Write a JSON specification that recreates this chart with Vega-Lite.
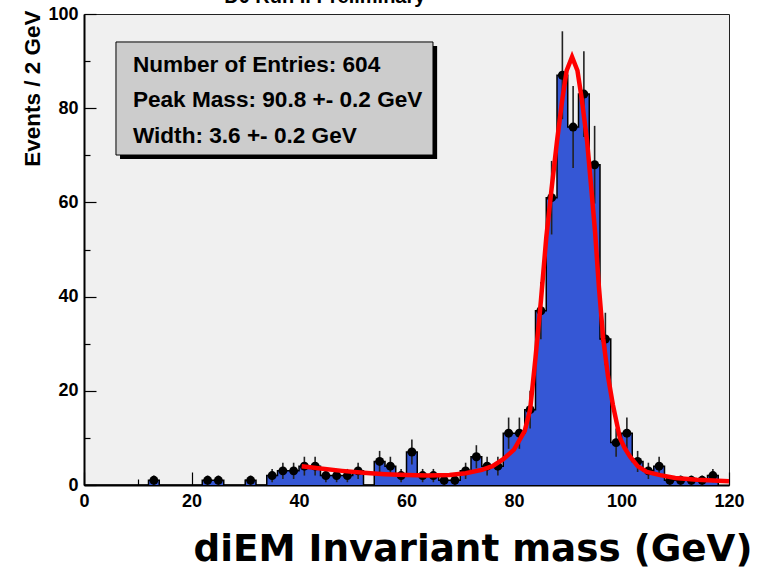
{
  "$schema": "https://vega.github.io/schema/vega-lite/v6.json",
  "width": 645,
  "height": 471,
  "autosize": {"type": "none"},
  "padding": {"left": 84, "top": 14, "right": 39, "bottom": 88},
  "background": "#ffffff",
  "config": {
    "view": {"fill": "#f0f0f0", "stroke": "#222222", "strokeWidth": 1},
    "font": "Liberation Sans"
  },
  "datasets": {
    "hist": [
      {"lo": 0, "hi": 2, "m": 1, "n": 0, "e": 0},
      {"lo": 2, "hi": 4, "m": 3, "n": 0, "e": 0},
      {"lo": 4, "hi": 6, "m": 5, "n": 0, "e": 0},
      {"lo": 6, "hi": 8, "m": 7, "n": 0, "e": 0},
      {"lo": 8, "hi": 10, "m": 9, "n": 0, "e": 0},
      {"lo": 10, "hi": 12, "m": 11, "n": 0, "e": 0},
      {"lo": 12, "hi": 14, "m": 13, "n": 1, "e": 1},
      {"lo": 14, "hi": 16, "m": 15, "n": 0, "e": 0},
      {"lo": 16, "hi": 18, "m": 17, "n": 0, "e": 0},
      {"lo": 18, "hi": 20, "m": 19, "n": 0, "e": 0},
      {"lo": 20, "hi": 22, "m": 21, "n": 0, "e": 0},
      {"lo": 22, "hi": 24, "m": 23, "n": 1, "e": 1},
      {"lo": 24, "hi": 26, "m": 25, "n": 1, "e": 1},
      {"lo": 26, "hi": 28, "m": 27, "n": 0, "e": 0},
      {"lo": 28, "hi": 30, "m": 29, "n": 0, "e": 0},
      {"lo": 30, "hi": 32, "m": 31, "n": 1, "e": 1},
      {"lo": 32, "hi": 34, "m": 33, "n": 0, "e": 0},
      {"lo": 34, "hi": 36, "m": 35, "n": 2, "e": 1.41},
      {"lo": 36, "hi": 38, "m": 37, "n": 3, "e": 1.73},
      {"lo": 38, "hi": 40, "m": 39, "n": 3, "e": 1.73},
      {"lo": 40, "hi": 42, "m": 41, "n": 4, "e": 2},
      {"lo": 42, "hi": 44, "m": 43, "n": 4, "e": 2},
      {"lo": 44, "hi": 46, "m": 45, "n": 2, "e": 1.41},
      {"lo": 46, "hi": 48, "m": 47, "n": 2, "e": 1.41},
      {"lo": 48, "hi": 50, "m": 49, "n": 2, "e": 1.41},
      {"lo": 50, "hi": 52, "m": 51, "n": 3, "e": 1.73},
      {"lo": 52, "hi": 54, "m": 53, "n": 0, "e": 0},
      {"lo": 54, "hi": 56, "m": 55, "n": 5, "e": 2.24},
      {"lo": 56, "hi": 58, "m": 57, "n": 4, "e": 2},
      {"lo": 58, "hi": 60, "m": 59, "n": 2, "e": 1.41},
      {"lo": 60, "hi": 62, "m": 61, "n": 7, "e": 2.65},
      {"lo": 62, "hi": 64, "m": 63, "n": 2, "e": 1.41},
      {"lo": 64, "hi": 66, "m": 65, "n": 2, "e": 1.41},
      {"lo": 66, "hi": 68, "m": 67, "n": 1, "e": 1},
      {"lo": 68, "hi": 70, "m": 69, "n": 1, "e": 1},
      {"lo": 70, "hi": 72, "m": 71, "n": 3, "e": 1.73},
      {"lo": 72, "hi": 74, "m": 73, "n": 6, "e": 2.45},
      {"lo": 74, "hi": 76, "m": 75, "n": 4, "e": 2},
      {"lo": 76, "hi": 78, "m": 77, "n": 4, "e": 2},
      {"lo": 78, "hi": 80, "m": 79, "n": 11, "e": 3.32},
      {"lo": 80, "hi": 82, "m": 81, "n": 11, "e": 3.32},
      {"lo": 82, "hi": 84, "m": 83, "n": 16, "e": 4},
      {"lo": 84, "hi": 86, "m": 85, "n": 37, "e": 6.08},
      {"lo": 86, "hi": 88, "m": 87, "n": 61, "e": 7.81},
      {"lo": 88, "hi": 90, "m": 89, "n": 87, "e": 9.33},
      {"lo": 90, "hi": 92, "m": 91, "n": 76, "e": 8.72},
      {"lo": 92, "hi": 94, "m": 93, "n": 83, "e": 9.11},
      {"lo": 94, "hi": 96, "m": 95, "n": 68, "e": 8.25},
      {"lo": 96, "hi": 98, "m": 97, "n": 31, "e": 5.57},
      {"lo": 98, "hi": 100, "m": 99, "n": 9, "e": 3},
      {"lo": 100, "hi": 102, "m": 101, "n": 11, "e": 3.32},
      {"lo": 102, "hi": 104, "m": 103, "n": 5, "e": 2.24},
      {"lo": 104, "hi": 106, "m": 105, "n": 3, "e": 1.73},
      {"lo": 106, "hi": 108, "m": 107, "n": 4, "e": 2},
      {"lo": 108, "hi": 110, "m": 109, "n": 1, "e": 1},
      {"lo": 110, "hi": 112, "m": 111, "n": 1, "e": 1},
      {"lo": 112, "hi": 114, "m": 113, "n": 1, "e": 1},
      {"lo": 114, "hi": 116, "m": 115, "n": 1, "e": 1},
      {"lo": 116, "hi": 118, "m": 117, "n": 2, "e": 1.41},
      {"lo": 118, "hi": 120, "m": 119, "n": 0, "e": 0}
    ],
    "fit": [
      {"x": 40.5, "y": 4.0},
      {"x": 44, "y": 3.5},
      {"x": 48, "y": 3.0},
      {"x": 52, "y": 2.6},
      {"x": 56, "y": 2.3},
      {"x": 60, "y": 2.1},
      {"x": 64, "y": 2.0},
      {"x": 68, "y": 2.1},
      {"x": 71, "y": 2.5},
      {"x": 74, "y": 3.2},
      {"x": 76, "y": 4.0},
      {"x": 78, "y": 5.5},
      {"x": 80, "y": 7.5},
      {"x": 82, "y": 11.5},
      {"x": 83, "y": 16},
      {"x": 84, "y": 27},
      {"x": 85, "y": 39},
      {"x": 86, "y": 52.5},
      {"x": 87, "y": 63},
      {"x": 88, "y": 73},
      {"x": 89, "y": 82},
      {"x": 89.8, "y": 88},
      {"x": 90.8, "y": 90.9},
      {"x": 91.8, "y": 88},
      {"x": 92.6, "y": 82},
      {"x": 93.6, "y": 73},
      {"x": 94.3, "y": 64},
      {"x": 95.1, "y": 53.5},
      {"x": 95.8, "y": 42},
      {"x": 96.6, "y": 31},
      {"x": 97.5, "y": 23},
      {"x": 98.4, "y": 17},
      {"x": 99.7, "y": 10},
      {"x": 100.6, "y": 7.8},
      {"x": 101.6, "y": 6},
      {"x": 103, "y": 4},
      {"x": 104.7, "y": 2.8},
      {"x": 107.2, "y": 2.1},
      {"x": 110, "y": 1.5},
      {"x": 114, "y": 1.1},
      {"x": 120, "y": 0.8}
    ]
  },
  "layer": [
    {
      "data": {"name": "hist"},
      "mark": {"type": "area", "interpolate": "step-after", "color": "#3557d5", "opacity": 1},
      "encoding": {
        "x": {
          "field": "lo",
          "type": "quantitative",
          "title": "diEM Invariant mass (GeV)",
          "scale": {"domain": [0, 120], "nice": false, "zero": false},
          "axis": {
            "values": [0, 5, 10, 15, 20, 25, 30, 35, 40, 45, 50, 55, 60, 65, 70, 75, 80, 85, 90, 95, 100, 105, 110, 115, 120],
            "labelExpr": "datum.value % 20 === 0 ? datum.label : ''",
            "format": "d",
            "grid": false,
            "labelFlush": false,
            "labelOverlap": false,
            "labelFont": "Liberation Sans",
            "labelFontSize": 18,
            "labelFontWeight": "bold",
            "labelColor": "#000000",
            "labelPadding": 20,
            "tickColor": "#000000",
            "tickWidth": 1.2,
            "tickSize": {"condition": {"test": "datum.value % 20 === 0", "value": -13}, "value": -6},
            "domainColor": "#000000",
            "domainWidth": 2,
            "titleFont": "DejaVu Sans",
            "titleFontSize": 37.3,
            "titleFontWeight": "bold",
            "titleColor": "#000000",
            "titleAlign": "right",
            "titleBaseline": "alphabetic",
            "titleX": 668,
            "titleY": 75
          }
        },
        "y": {
          "field": "n",
          "type": "quantitative",
          "title": "Events / 2 GeV",
          "scale": {"domain": [0, 100], "nice": false},
          "axis": {
            "values": [0, 5, 10, 15, 20, 25, 30, 35, 40, 45, 50, 55, 60, 65, 70, 75, 80, 85, 90, 95, 100],
            "labelExpr": "datum.value % 20 === 0 ? datum.label : ''",
            "format": "d",
            "grid": false,
            "labelFlush": false,
            "labelOverlap": false,
            "labelFont": "Liberation Sans",
            "labelFontSize": 18,
            "labelFontWeight": "bold",
            "labelColor": "#000000",
            "labelPadding": 18,
            "tickColor": "#000000",
            "tickWidth": 1.2,
            "tickSize": {"condition": {"test": "datum.value % 20 === 0", "value": -12}, "value": -6},
            "domainColor": "#000000",
            "domainWidth": 2,
            "titleFont": "Liberation Sans",
            "titleFontSize": 22.5,
            "titleFontWeight": "bold",
            "titleColor": "#000000",
            "titleAngle": -90,
            "titleAlign": "right",
            "titleBaseline": "middle",
            "titleX": -52,
            "titleY": -4
          }
        }
      }
    },
    {
      "data": {"name": "hist"},
      "mark": {"type": "line", "interpolate": "step-after", "color": "#000000", "strokeWidth": 1.5},
      "encoding": {
        "x": {"field": "lo", "type": "quantitative", "title": "diEM Invariant mass (GeV)"},
        "y": {"field": "n", "type": "quantitative", "title": "Events / 2 GeV"}
      }
    },
    {
      "data": {"name": "hist"},
      "transform": [{"filter": "datum.n > 0"}],
      "mark": {"type": "errorbar", "color": "#222222", "thickness": 1.6},
      "encoding": {
        "x": {"field": "m", "type": "quantitative", "title": "diEM Invariant mass (GeV)"},
        "y": {"field": "n", "type": "quantitative", "title": "Events / 2 GeV"},
        "yError": {"field": "e"}
      }
    },
    {
      "data": {"name": "hist"},
      "transform": [{"filter": "datum.n > 0"}],
      "mark": {"type": "circle", "color": "#000000", "opacity": 1, "size": 80},
      "encoding": {
        "x": {"field": "m", "type": "quantitative", "title": "diEM Invariant mass (GeV)"},
        "y": {"field": "n", "type": "quantitative", "title": "Events / 2 GeV"}
      }
    },
    {
      "data": {"name": "fit"},
      "mark": {"type": "line", "color": "#ff0000", "strokeWidth": 4.5, "clip": true},
      "encoding": {
        "x": {"field": "x", "type": "quantitative", "title": "diEM Invariant mass (GeV)"},
        "y": {"field": "y", "type": "quantitative", "title": "Events / 2 GeV"}
      }
    },
    {
      "data": {"values": [{}]},
      "mark": {"type": "rect", "fill": "#000000"},
      "encoding": {
        "x": {"datum": 6.7},
        "x2": {"datum": 65.7},
        "y": {"datum": 93.2},
        "y2": {"datum": 69.2}
      }
    },
    {
      "data": {"values": [{}]},
      "mark": {"type": "rect", "fill": "#cccccc", "stroke": "#000000", "strokeWidth": 1},
      "encoding": {
        "x": {"datum": 5.95},
        "x2": {"datum": 64.93},
        "y": {"datum": 94.06},
        "y2": {"datum": 70.06}
      }
    },
    {
      "data": {"values": [{}]},
      "mark": {
        "type": "text",
        "text": ["Number of Entries: 604", "Peak Mass: 90.8 +- 0.2 GeV", "Width: 3.6 +- 0.2 GeV"],
        "lineHeight": 35.5,
        "align": "left",
        "baseline": "alphabetic",
        "font": "Liberation Sans",
        "fontSize": 22.6,
        "fontWeight": "bold",
        "color": "#000000"
      },
      "encoding": {
        "x": {"datum": 9.1},
        "y": {"datum": 87.7}
      }
    },
    {
      "data": {"values": [{}]},
      "mark": {
        "type": "text",
        "text": "D0 Run II Preliminary",
        "align": "center",
        "baseline": "alphabetic",
        "font": "Liberation Sans",
        "fontSize": 20,
        "fontWeight": "bold",
        "color": "#000000",
        "clip": false
      },
      "encoding": {
        "x": {"datum": 44.8},
        "y": {"datum": 102.3}
      }
    }
  ]
}
